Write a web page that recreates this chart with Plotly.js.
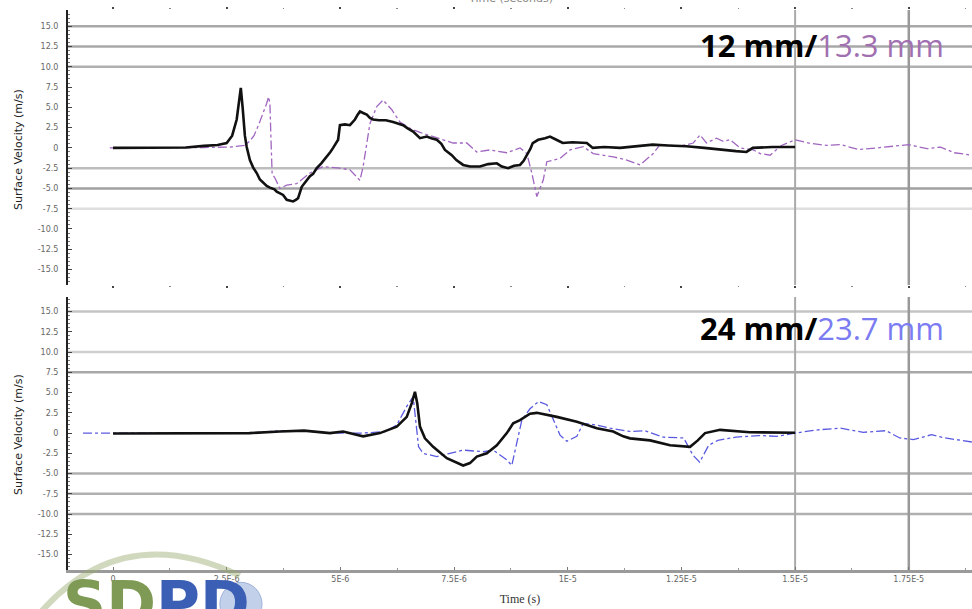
<!DOCTYPE html>
<html>
<head>
<meta charset="utf-8">
<script src="https://cdn.plot.ly/plotly-3.0.1.min.js"></script>
<style>html,body{margin:0;padding:0;background:#fff;}#chart{width:972px;height:609px;}</style>
</head>
<body>
<div id="chart"></div>
<script>
// Time in microseconds; labels shown in seconds
const xTickVals = [0, 2.5, 5, 7.5, 10, 12.5, 15, 17.5];
const xTickText = ["0", "2.5E-6", "5E-6", "7.5E-6", "1E-5", "1.25E-5", "1.5E-5", "1.75E-5"];
const yTickVals = [15, 12.5, 10, 7.5, 5, 2.5, 0, -2.5, -5, -7.5, -10, -12.5, -15];
const yTickText = ["15.0", "12.5", "10.0", "7.5", "5.0", "2.5", "0", "-2.5", "-5.0", "-7.5", "-10.0", "-12.5", "-15.0"];

// Top panel: 12 mm (measured, black)
const t12x = [0,1.0,1.6,2.0,2.3,2.5,2.62,2.72,2.78,2.81,2.85,2.9,2.94,3.01,3.08,3.16,3.23,3.30,3.38,3.45,3.55,3.60,3.67,3.74,3.82,3.88,3.96,4.02,4.07,4.15,4.25,4.33,4.40,4.48,4.58,4.70,4.78,4.84,4.90,4.95,4.99,5.10,5.21,5.28,5.32,5.38,5.43,5.50,5.58,5.65,5.72,5.85,6.0,6.16,6.28,6.38,6.48,6.60,6.75,6.9,7.0,7.12,7.22,7.30,7.38,7.45,7.55,7.70,7.85,8.07,8.25,8.44,8.55,8.69,8.82,8.95,9.03,9.10,9.18,9.23,9.35,9.50,9.61,9.75,9.89,10.1,10.42,10.55,10.8,11.15,11.5,11.87,12.2,12.61,13.0,13.36,13.7,13.93,14.07,14.5,15.0];
const t12y = [0,0,0.05,0.25,0.35,0.6,1.5,3.5,6.0,7.4,5.0,1.5,0.1,-1.5,-2.4,-3.1,-3.9,-4.3,-4.7,-4.9,-5.1,-5.4,-5.6,-5.8,-6.4,-6.5,-6.6,-6.4,-6.2,-4.8,-4.1,-3.5,-3.2,-2.5,-1.9,-1.1,-0.5,0.0,0.5,1.0,2.8,2.9,2.8,3.2,3.5,4.1,4.5,4.3,4.1,3.7,3.5,3.4,3.4,3.2,3.0,2.8,2.4,2.0,1.2,1.4,1.2,1.0,0.5,-0.25,-0.6,-0.9,-1.5,-2.1,-2.3,-2.3,-2.0,-1.9,-2.3,-2.5,-2.2,-2.1,-1.6,-0.9,-0.1,0.6,1.0,1.2,1.4,1.0,0.6,0.7,0.6,0.0,0.1,0.0,0.2,0.4,0.3,0.2,0.0,-0.25,-0.4,-0.5,0.0,0.1,0.1];

// Top panel: 13.3 mm (simulated, purple dashed)
const t13x = [-0.07,1.0,2.0,2.57,2.9,3.0,3.1,3.2,3.3,3.38,3.42,3.45,3.48,3.50,3.55,3.67,3.82,4.04,4.33,4.62,4.99,5.21,5.43,5.50,5.65,5.80,5.94,6.13,6.31,6.53,6.75,7.12,7.48,7.78,8.0,8.29,8.66,8.95,9.10,9.21,9.32,9.46,9.54,9.83,10.05,10.34,10.56,11.0,11.30,11.59,11.88,12.03,12.47,12.76,12.91,13.05,13.27,13.42,13.57,13.79,14.08,14.23,14.45,14.70,15.0,15.3,15.7,16.0,16.4,16.8,17.2,17.5,17.9,18.2,18.5,18.89];
const t13y = [0,0,0.05,0.1,0.3,0.8,1.5,2.8,4.2,5.5,6.3,5.5,0,-3.3,-3.6,-5.0,-4.6,-4.4,-3.1,-2.3,-2.5,-2.7,-4.0,-2.3,3.0,5.1,5.9,4.7,3.2,2.4,1.9,1.2,0.6,0.6,-0.5,-0.25,-0.6,0.0,-0.7,-3.1,-6.0,-4.0,-1.7,-1.3,-0.25,0.15,-0.7,-1.1,-1.5,-2.1,-0.7,0.4,0.2,0.6,1.6,0.6,1.2,0.8,1.0,0.0,-0.25,-0.7,-0.9,0.3,1.0,0.6,0.3,0.4,-0.2,0.0,0.2,0.4,-0.1,0.1,-0.6,-0.9];

// Bottom panel: 24 mm (measured, black)
const b24x = [0,1.5,3.0,3.67,4.2,4.77,5.06,5.50,5.87,6.24,6.46,6.57,6.64,6.69,6.75,6.86,7.04,7.34,7.55,7.70,7.85,8.00,8.22,8.44,8.66,8.80,8.95,9.17,9.32,9.76,10.20,10.64,11.0,11.22,11.37,11.81,12.25,12.69,12.86,13.02,13.35,14.0,15.0];
const b24y = [-0.05,-0.05,0,0.2,0.3,0.0,0.2,-0.4,0.0,0.8,2.0,3.7,5.1,3.7,0.8,-0.65,-1.7,-3.1,-3.6,-4.0,-3.7,-2.9,-2.5,-1.5,0.0,1.2,1.6,2.4,2.5,2.0,1.4,0.6,0.2,-0.4,-0.65,-0.9,-1.5,-1.7,-0.9,0.0,0.4,0.1,0.05];

// Bottom panel: 23.7 mm (simulated, blue dashed)
const b237x = [-0.66,0.0,1.0,2.0,3.0,3.7,4.2,4.5,5.0,5.5,6.0,6.24,6.46,6.60,6.68,6.72,6.82,7.12,7.41,7.70,8.14,8.36,8.51,8.66,8.77,8.88,8.99,9.17,9.36,9.54,9.68,9.83,9.98,10.2,10.34,10.64,10.93,11.15,11.37,11.7,12.1,12.55,12.75,12.9,13.1,13.3,13.7,14.2,14.6,15.0,15.5,16.0,16.5,17.0,17.3,17.6,18.0,18.3,18.6,18.89];
const b237y = [0,0,0,-0.05,0,0.3,0.3,0.1,0,0,0.2,1.0,3.3,4.5,0.8,-1.7,-2.5,-2.9,-2.5,-2.1,-2.3,-2.1,-2.7,-3.3,-4.0,-1.2,1.6,3.0,3.9,3.5,1.6,-0.25,-1.0,-0.4,1.2,1.0,0.6,0.4,0.2,0.3,-0.5,-0.6,-2.7,-3.6,-1.5,-0.9,-0.5,-0.3,-0.4,0.0,0.4,0.6,0.1,0.3,-0.6,-0.8,-0.2,-0.6,-0.9,-1.1];

const traces = [
  {x: t13x, y: t13y, xaxis: 'x2', yaxis: 'y2', mode: 'lines', name: '13.3 mm',
   line: {color: '#a066c0', width: 1.3, dash: 'dashdot'}},
  {x: t12x, y: t12y, xaxis: 'x2', yaxis: 'y2', mode: 'lines', name: '12 mm',
   line: {color: '#111111', width: 2.6}},
  {x: b237x, y: b237y, xaxis: 'x', yaxis: 'y', mode: 'lines', name: '23.7 mm',
   line: {color: '#5a5ae0', width: 1.3, dash: 'dashdot'}},
  {x: b24x, y: b24y, xaxis: 'x', yaxis: 'y', mode: 'lines', name: '24 mm',
   line: {color: '#111111', width: 2.6}}
];

const xRange = [-0.99, 18.89];
const tickFont = {family: 'DejaVu Sans', size: 8, color: '#666'};

function yAxis(domain, range) {
  return {domain: domain, range: range, tickvals: yTickVals, ticktext: yTickText,
    showgrid: false, zeroline: false, showline: true, linecolor: '#222', linewidth: 2,
    ticks: 'inside', ticklen: 4, tickcolor: '#444', tickfont: tickFont, ticklabelstandoff: 6,
    minor: {ticks: 'inside', ticklen: 2, tickcolor: '#777', dtick: 0.5}, fixedrange: true};
}

function hline(yref, v, color, w) {
  return {type: 'line', xref: 'paper', yref: yref, x0: 0, x1: 1, y0: v, y1: v,
    line: {color: color, width: w}, layer: 'below'};
}
function vline(xref, yref, v, color, w) {
  return {type: 'line', xref: xref, yref: yref + ' domain', x0: v, x1: v, y0: 0, y1: 1,
    line: {color: color, width: w}, layer: 'below'};
}

const shapes = [
  hline('y2', 15, '#a8a8a8', 2.5), hline('y2', 12.5, '#a8a8a8', 2.5), hline('y2', 10, '#b0b0b0', 2.5),
  hline('y2', -2.5, '#bdbdbd', 2.5), hline('y2', -5, '#a0a0a0', 2.5), hline('y2', -7.5, '#dedede', 2.5),
  hline('y', 15, '#c4c4c4', 2.5), hline('y', 10, '#cfcfcf', 2.5), hline('y', 7.5, '#a8a8a8', 2.5),
  hline('y', -5, '#b0b0b0', 2.5), hline('y', -7.5, '#b0b0b0', 2.5), hline('y', -10, '#b0b0b0', 2.5),
  vline('x2', 'y2', 15, '#aaaaaa', 2), vline('x2', 'y2', 17.5, '#999999', 2.5),
  vline('x', 'y', 15, '#aaaaaa', 2), vline('x', 'y', 17.5, '#999999', 2.5),
  // logo swoosh and globe
  {type: 'path', xref: 'paper', yref: 'paper', path: 'M -0.03,-0.075 Q 0.06,0.09 0.19,-0.01',
   line: {color: 'rgba(150,170,110,0.45)', width: 6}},
  {type: 'circle', xref: 'paper', yref: 'paper', x0: 0.168, x1: 0.2146, y0: -0.1, y1: -0.022,
   fillcolor: '#c3d0ea', line: {color: '#9fb2dc', width: 1}}
];

const annotations = [
  {xref: 'paper', yref: 'paper', x: 0.9715, y: (570 - 45) / 560, xanchor: 'right', yanchor: 'middle',
   showarrow: false, font: {family: 'Open Sans', size: 31, color: '#000'},
   text: "<b>12 mm/</b><span style='color:#a070b0'>13.3 mm</span>"},
  {xref: 'paper', yref: 'paper', x: 0.9715, y: (570 - 328) / 560, xanchor: 'right', yanchor: 'middle',
   showarrow: false, font: {family: 'Open Sans', size: 31, color: '#000'},
   text: "<b>24 mm/</b><span style='color:#7b7bf2'>23.7 mm</span>"},
  {xref: 'paper', yref: 'paper', x: (18 - 68) / 904, y: (570 - 150) / 560, textangle: -90,
   xanchor: 'center', yanchor: 'middle', showarrow: false,
   font: {family: 'DejaVu Sans', size: 11, color: '#222'}, text: 'Surface Velocity (m/s)'},
  {xref: 'paper', yref: 'paper', x: (18 - 68) / 904, y: (570 - 435) / 560, textangle: -90,
   xanchor: 'center', yanchor: 'middle', showarrow: false,
   font: {family: 'DejaVu Sans', size: 11, color: '#222'}, text: 'Surface Velocity (m/s)'},
  {xref: 'paper', yref: 'paper', x: (510 - 68) / 904, y: (570 + 2) / 560, xanchor: 'center', yanchor: 'middle',
   showarrow: false, font: {family: 'DejaVu Sans', size: 11, color: '#888'}, text: 'Time (seconds)'},
  {xref: 'paper', yref: 'paper', x: -0.008, y: (570 - 566) / 560, xanchor: 'left', yanchor: 'top',
   showarrow: false, font: {family: 'DejaVu Sans', size: 60, color: '#7f9a55'},
   text: "<b>SD</b><span style='color:#3b5fb5'><b>PD</b></span>"}
];

const layout = {
  width: 972, height: 609,
  margin: {l: 68, r: 0, t: 10, b: 39, pad: 0},
  paper_bgcolor: '#fff', plot_bgcolor: '#fff', showlegend: false,
  xaxis: {domain: [0, 1], range: xRange, anchor: 'y', tickvals: xTickVals, ticktext: xTickText,
    showgrid: false, zeroline: false, showline: true, linecolor: '#9a9a9a', linewidth: 2.5,
    ticks: 'inside', ticklen: 3, tickcolor: '#777', tickfont: tickFont,
    minor: {ticks: 'inside', ticklen: 2, tickcolor: '#999', dtick: 1.25},
    title: {text: 'Time (s)', font: {family: 'Liberation Serif', size: 12, color: '#333'}, standoff: 12},
    fixedrange: true},
  yaxis: yAxis([0, 0.4875], [-16.9, 16.8]),
  xaxis2: {domain: [0, 1], range: xRange, anchor: 'y2', tickvals: xTickVals, showticklabels: false,
    showgrid: false, zeroline: false, showline: false, mirror: 'ticks',
    ticks: 'outside', ticklen: 2, tickwidth: 2, tickcolor: '#444',
    minor: {ticks: 'outside', ticklen: 1, tickwidth: 1.5, tickcolor: '#888', dtick: 1.25},
    fixedrange: true},
  yaxis2: yAxis([0.509, 1], [-16.9, 17.0]),
  shapes: shapes,
  annotations: annotations
};

Plotly.newPlot('chart', traces, layout, {displayModeBar: false, staticPlot: true});
</script>
</body>
</html>
